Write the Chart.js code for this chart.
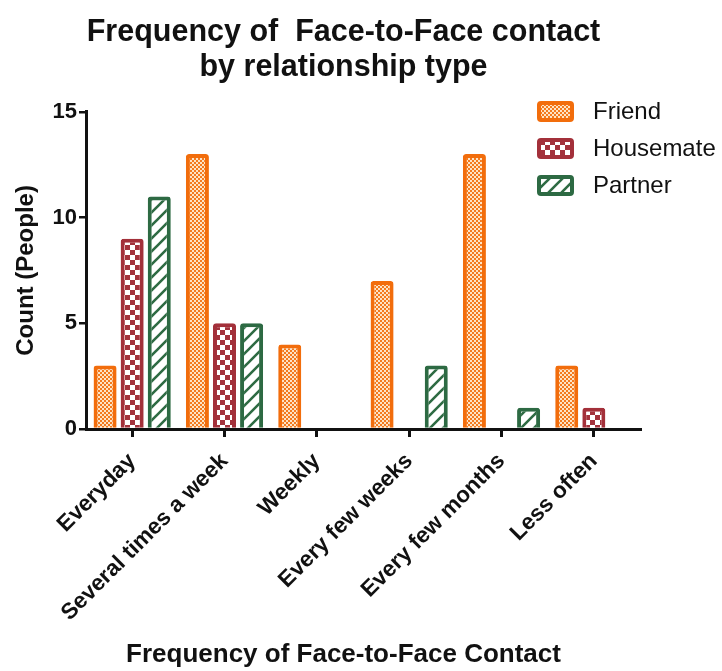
<!DOCTYPE html>
<html>
<head>
<meta charset="utf-8">
<script src="https://cdn.jsdelivr.net/npm/chart.js@4.4.1/dist/chart.umd.min.js"></script>
<style>
  html, body { margin: 0; padding: 0; background: #fff; }
  #wrap { width: 722px; height: 671px; }
</style>
</head>
<body>
<div id="wrap"><canvas id="chart" width="722" height="671"></canvas></div>
<script>
const categories = ['Everyday', 'Several times a week', 'Weekly', 'Every few weeks', 'Every few months', 'Less often'];
const seriesNames = ['Friend', 'Housemate', 'Partner'];
const friendCounts = [3, 13, 4, 7, 13, 3];
const housemateCounts = [9, 5, 0, 0, 0, 1];
const partnerCounts = [11, 5, 0, 3, 1, 0];
const yTicks = [0, 5, 10, 15];

const FONT = '"Liberation Sans", Arial, sans-serif';
const canvas = document.getElementById('chart');
const ctx = canvas.getContext('2d');

// hatch fills like the original graph
function makePattern(kind) {
    const c = document.createElement('canvas');
    const g = c.getContext('2d');
    if (kind === 'friend') {
        c.width = c.height = 4;
        g.fillStyle = '#fde4c6'; g.fillRect(0, 0, 4, 4);
        g.fillStyle = '#f47a1e'; g.fillRect(0, 0, 2, 2); g.fillRect(2, 2, 2, 2);
    } else if (kind === 'housemate') {
        c.width = c.height = 10;
        g.fillStyle = '#ffffff'; g.fillRect(0, 0, 10, 10);
        g.fillStyle = '#a3323c'; g.fillRect(0, 0, 5, 5); g.fillRect(5, 5, 5, 5);
    } else {
        c.width = c.height = 13;
        g.fillStyle = '#ffffff'; g.fillRect(0, 0, 13, 13);
        g.strokeStyle = '#2e6b43'; g.lineWidth = 2.6;
        g.beginPath();
        g.moveTo(-2, 15); g.lineTo(15, -2);
        g.moveTo(-2, 2); g.lineTo(2, -2);
        g.moveTo(11, 15); g.lineTo(15, 11);
        g.stroke();
    }
    return ctx.createPattern(c, 'repeat');
}

const legendBox = {
    id: 'legendBox',
    afterDraw(chart) {
        const c = chart.ctx;
        chart.data.datasets.forEach((ds, i) => {
            const y = 111.5 + i * 37;
            c.save();
            c.beginPath();
            c.roundRect(539, y - 8.5, 33, 17, 2);
            c.fillStyle = ds.backgroundColor;
            c.fill();
            c.lineWidth = 4;
            c.strokeStyle = ds.borderColor;
            c.stroke();
            c.fillStyle = '#111';
            c.font = '24px ' + FONT;
            c.textBaseline = 'middle';
            c.fillText(ds.label, 593, y + 1);
            c.restore();
        });
    }
};

const barStyle = { borderWidth: 4, borderRadius: 3, categoryPercentage: 0.88, barPercentage: 0.85 };

new Chart(ctx, {
    type: 'bar',
    data: {
        labels: categories,
        datasets: [
            Object.assign({ label: seriesNames[0], data: friendCounts, backgroundColor: makePattern('friend'), borderColor: '#f26d0c' }, barStyle),
            Object.assign({ label: seriesNames[1], data: housemateCounts, backgroundColor: makePattern('housemate'), borderColor: '#a3303a' }, barStyle),
            Object.assign({ label: seriesNames[2], data: partnerCounts, backgroundColor: makePattern('partner'), borderColor: '#2d6a43' }, barStyle)
        ]
    },
    options: {
        responsive: false,
        animation: false,
        layout: { padding: { left: 0, right: 35, top: 0, bottom: 0 } },
        plugins: {
            legend: { display: false },
            tooltip: { enabled: false },
            title: {
                display: true,
                text: ['Frequency of  Face-to-Face contact', 'by relationship type'],
                color: '#111',
                font: { family: FONT, size: 30.5, weight: 'bold', lineHeight: 1.12 },
                padding: { top: 16, bottom: 27.5 }
            },
            subtitle: {
                display: true,
                position: 'bottom',
                text: 'Frequency of Face-to-Face Contact',
                color: '#111',
                font: { family: FONT, size: 26, weight: 'bold', lineHeight: 1.2 },
                padding: { top: 0, bottom: 1 }
            }
        },
        scales: {
            x: {
                afterFit(s) { s.height = 671 - 429 - 32.2; },
                grid: { offset: false, drawOnChartArea: false, drawTicks: true, tickLength: 8, color: '#111', lineWidth: 3 },
                border: { display: true, color: '#111', width: 3 },
                ticks: {
                    color: '#111', font: { family: FONT, size: 22.5, weight: 'bold' },
                    maxRotation: 45, minRotation: 45, padding: 11, autoSkip: false
                }
            },
            y: {
                min: 0,
                max: 15,
                afterFit(s) { s.width = 86; },
                afterBuildTicks(s) { s.ticks = yTicks.map(v => ({ value: v })); },
                grid: { drawOnChartArea: false, drawTicks: true, tickLength: 7, color: '#111', lineWidth: 2.5 },
                border: { display: true, color: '#111', width: 3 },
                ticks: { color: '#111', font: { family: FONT, size: 22, weight: 'bold' }, padding: 2 },
                title: {
                    display: true,
                    text: 'Count (People)',
                    color: '#111',
                    font: { family: FONT, size: 24, weight: 'bold', lineHeight: 1.2 },
                    padding: { top: 11.5, bottom: 0 }
                }
            },
            pad: {
                type: 'linear',
                position: 'right',
                afterFit(s) { s.width = 47; },
                grid: { display: false },
                border: { display: false },
                ticks: { display: false }
            }
        }
    },
    plugins: [legendBox]
});
</script>
</body>
</html>
